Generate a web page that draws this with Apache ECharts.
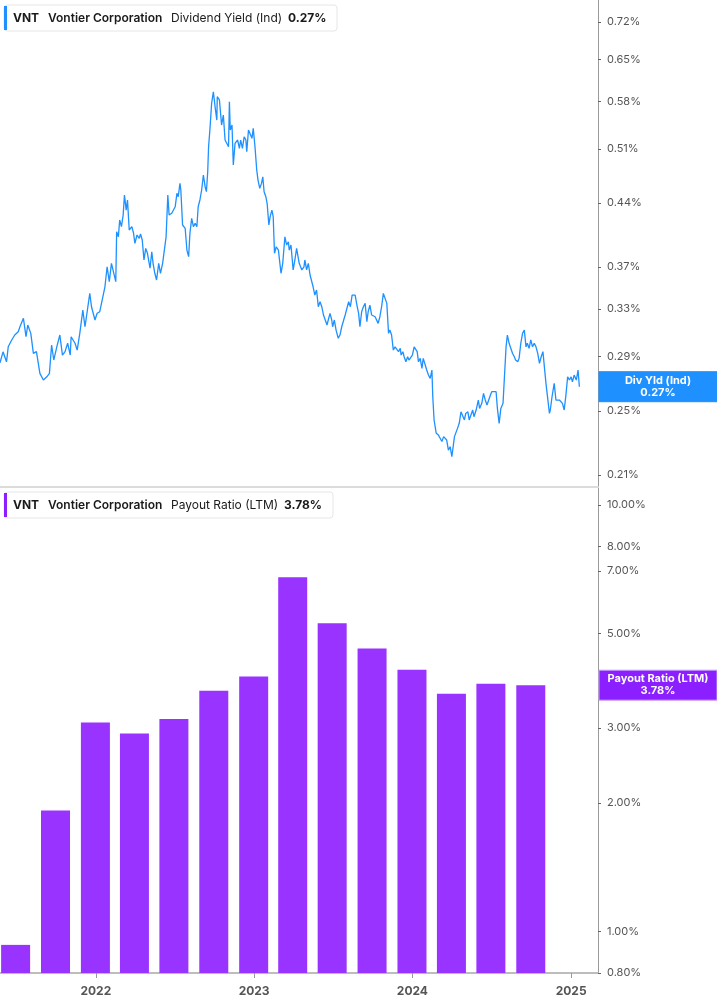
<!DOCTYPE html>
<html><head><meta charset="utf-8">
<script src="https://cdn.jsdelivr.net/npm/echarts@6/dist/echarts.min.js"></script>
<style>html,body{margin:0;padding:0;background:#fff}#c{width:717px;height:1005px}</style>
</head><body><div id="c"></div><script>
// ---- Data ----
const ticker = 'VNT';
const company = 'Vontier Corporation';
const yieldName = 'Dividend Yield (Ind)';
const payoutName = 'Payout Ratio (LTM)';
const yieldTicks = [0.21, 0.25, 0.29, 0.33, 0.37, 0.44, 0.51, 0.58, 0.65, 0.72];
const payoutTicks = [0.8, 1, 2, 3, 5, 7, 8, 10];
const payoutDates = ['2021-06-30','2021-09-30','2021-12-31','2022-03-31','2022-06-30','2022-09-30','2022-12-31','2023-03-31','2023-06-30','2023-09-30','2023-12-31','2024-03-31','2024-06-30','2024-09-30'];
const payoutValues = [0.93, 1.92, 3.09, 2.91, 3.15, 3.67, 3.96, 6.77, 5.28, 4.61, 4.11, 3.61, 3.81, 3.78];
const yieldDates = [
'2021-05-25','2021-06-01','2021-06-05','2021-06-09','2021-06-13','2021-06-21','2021-06-28','2021-07-06','2021-07-10','2021-07-18',
'2021-07-24','2021-07-28','2021-08-04','2021-08-10','2021-08-17','2021-08-25','2021-09-02','2021-09-10','2021-09-16','2021-09-21',
'2021-09-26','2021-10-03','2021-10-10','2021-10-16','2021-10-22','2021-10-28','2021-11-03','2021-11-05','2021-11-14','2021-11-19',
'2021-11-25','2021-12-02','2021-12-07','2021-12-12','2021-12-18','2021-12-22','2021-12-30','2022-01-04','2022-01-10','2022-01-14',
'2022-01-22','2022-01-27','2022-02-01','2022-02-06','2022-02-16','2022-02-18','2022-02-22','2022-02-25','2022-03-01','2022-03-05',
'2022-03-08','2022-03-12','2022-03-15','2022-03-19','2022-03-25','2022-03-29','2022-04-01','2022-04-06','2022-04-11','2022-04-14',
'2022-04-18','2022-04-22','2022-04-26','2022-04-30','2022-05-06','2022-05-10','2022-05-13','2022-05-17','2022-05-21','2022-05-26',
'2022-05-30','2022-06-04','2022-06-08','2022-06-12','2022-06-16','2022-06-19','2022-06-25','2022-07-03','2022-07-07','2022-07-10',
'2022-07-14','2022-07-16','2022-07-20','2022-07-26','2022-07-30','2022-08-03','2022-08-06','2022-08-10','2022-08-14','2022-08-18',
'2022-08-22','2022-08-25','2022-08-29','2022-09-02','2022-09-06','2022-09-10','2022-09-13','2022-09-16','2022-09-18','2022-09-21',
'2022-09-25','2022-09-29','2022-10-03','2022-10-07','2022-10-08','2022-10-13','2022-10-18','2022-10-22','2022-10-26','2022-10-30',
'2022-11-03','2022-11-05','2022-11-07','2022-11-11','2022-11-14','2022-11-18','2022-11-24','2022-11-28','2022-12-01','2022-12-05',
'2022-12-09','2022-12-13','2022-12-15','2022-12-19','2022-12-23','2022-12-27','2022-12-30','2023-01-03','2023-01-07','2023-01-10',
'2023-01-14','2023-01-18','2023-01-21','2023-01-24','2023-01-28','2023-01-31','2023-02-04','2023-02-07','2023-02-11','2023-02-14',
'2023-02-17','2023-02-21','2023-02-26','2023-03-04','2023-03-08','2023-03-13','2023-03-17','2023-03-21','2023-03-23','2023-03-27',
'2023-04-01','2023-04-05','2023-04-09','2023-04-15','2023-04-21','2023-04-26','2023-04-28','2023-05-02','2023-05-06','2023-05-10',
'2023-05-14','2023-05-17','2023-05-21','2023-05-25','2023-05-29','2023-06-02','2023-06-06','2023-06-10','2023-06-14','2023-06-18',
'2023-06-21','2023-06-25','2023-06-29','2023-07-01','2023-07-05','2023-07-09','2023-07-14','2023-07-18','2023-07-22','2023-07-26',
'2023-07-30','2023-08-03','2023-08-07','2023-08-11','2023-08-15','2023-08-18','2023-08-22','2023-08-26','2023-08-30','2023-09-02',
'2023-09-06','2023-09-10','2023-09-14','2023-09-18','2023-09-21','2023-09-25','2023-09-29','2023-10-03','2023-10-07','2023-10-11',
'2023-10-14','2023-10-18','2023-10-22','2023-10-26','2023-10-30','2023-11-03','2023-11-07','2023-11-10','2023-11-14','2023-11-18',
'2023-11-22','2023-11-26','2023-11-30','2023-12-04','2023-12-06','2023-12-10','2023-12-13','2023-12-17','2023-12-21','2023-12-24',
'2023-12-28','2024-01-01','2024-01-05','2024-01-09','2024-01-12','2024-01-15','2024-01-19','2024-01-23','2024-01-26','2024-01-30',
'2024-02-03','2024-02-07','2024-02-11','2024-02-15','2024-02-17','2024-02-20','2024-02-25','2024-03-01','2024-03-05','2024-03-09',
'2024-03-13','2024-03-17','2024-03-20','2024-03-24','2024-03-28','2024-04-01','2024-04-05','2024-04-07','2024-04-11','2024-04-14',
'2024-04-18','2024-04-22','2024-04-26','2024-04-30','2024-05-03','2024-05-08','2024-05-11','2024-05-15','2024-05-19','2024-05-22',
'2024-05-27','2024-06-01','2024-06-04','2024-06-09','2024-06-13','2024-06-17','2024-06-21','2024-06-25','2024-06-29','2024-07-02',
'2024-07-06','2024-07-12','2024-07-15','2024-07-19','2024-07-23','2024-07-28','2024-07-31','2024-08-04','2024-08-07','2024-08-11',
'2024-08-15','2024-08-19','2024-08-23','2024-08-26','2024-08-31','2024-09-03','2024-09-07','2024-09-11','2024-09-15','2024-09-19',
'2024-09-22','2024-09-26','2024-09-30','2024-10-04','2024-10-08','2024-10-12','2024-10-16','2024-10-20','2024-10-24','2024-10-28',
'2024-11-01','2024-11-04','2024-11-08','2024-11-12','2024-11-14','2024-11-18','2024-11-23','2024-11-27','2024-12-01','2024-12-05',
'2024-12-09','2024-12-12','2024-12-16','2024-12-20','2024-12-24','2024-12-28','2025-01-01','2025-01-04','2025-01-08','2025-01-13',
'2025-01-17','2025-01-20'];
const yieldValues = [
0.2850,0.2936,0.2944,0.2857,0.2976,0.3032,0.3073,0.3101,0.3143,0.3216,
0.3059,0.3158,0.3087,0.2923,0.2937,0.2769,0.2719,0.2743,0.2769,0.2991,
0.2871,0.2976,0.3073,0.2910,0.2937,0.3005,0.2910,0.3059,0.3005,0.2950,
0.3087,0.3289,0.3143,0.3274,0.3442,0.3319,0.3201,0.3260,0.3274,0.3349,
0.3504,0.3700,0.3553,0.3735,0.3553,0.4070,0.4014,0.4202,0.4126,0.4259,
0.4497,0.4317,0.4437,0.4089,0.4126,0.4053,0.3943,0.4034,0.3997,0.4045,
0.3979,0.3769,0.3890,0.3838,0.3685,0.3854,0.3735,0.3635,0.3569,0.3735,
0.3635,0.3735,0.3735,0.4014,0.4497,0.4259,0.4279,0.4356,0.4518,0.4477,
0.4642,0.4559,0.4145,0.4108,0.3872,0.3803,0.4053,0.4221,0.4126,0.4164,
0.4126,0.4356,0.4437,0.4559,0.4749,0.4600,0.4538,0.4792,0.5128,0.5368,
0.5771,0.5956,0.5717,0.5514,0.5876,0.5824,0.5440,0.5590,0.5223,0.5247,
0.5128,0.5797,0.5368,0.5440,0.4880,0.5176,0.5223,0.5106,0.5223,0.5106,
0.5269,0.5223,0.5059,0.5368,0.5392,0.5247,0.5392,0.5128,0.4814,0.4684,
0.4580,0.4642,0.4726,0.4538,0.4477,0.4397,0.4145,0.4240,0.4317,0.4240,
0.3838,0.3907,0.3872,0.3635,0.3735,0.4014,0.3925,0.3960,0.3872,0.3925,
0.3668,0.3769,0.3890,0.3735,0.3668,0.3700,0.3769,0.3668,0.3735,0.3618,
0.3601,0.3504,0.3426,0.3473,0.3319,0.3364,0.3319,0.3245,0.3201,0.3158,
0.3201,0.3260,0.3201,0.3143,0.3201,0.3115,0.3046,0.3073,0.3143,0.3158,
0.3245,0.3260,0.3364,0.3319,0.3426,0.3410,0.3426,0.3334,0.3260,0.3143,
0.3274,0.3319,0.3349,0.3186,0.3274,0.3334,0.3245,0.3260,0.3230,0.3216,
0.3172,0.3230,0.3319,0.3442,0.3426,0.3349,0.3087,0.3115,0.3073,0.2950,
0.2976,0.2991,0.2937,0.2964,0.2910,0.2937,0.2897,0.2857,0.2897,0.2871,
0.2884,0.2910,0.2976,0.2976,0.2937,0.2857,0.2884,0.2807,0.2884,0.2884,
0.2794,0.2756,0.2731,0.2794,0.2598,0.2439,0.2352,0.2341,0.2321,0.2300,
0.2331,0.2341,0.2310,0.2247,0.2268,0.2207,0.2214,0.2331,0.2331,0.2384,
0.2417,0.2494,0.2483,0.2439,0.2483,0.2494,0.2439,0.2472,0.2506,0.2461,
0.2506,0.2575,0.2517,0.2552,0.2622,0.2575,0.2540,0.2528,0.2610,0.2634,
0.2622,0.2634,0.2517,0.2417,0.2517,0.2552,0.2552,0.2976,0.3073,0.3005,
0.3018,0.2923,0.2897,0.2871,0.2857,0.2884,0.3005,0.3087,0.3115,0.2976,
0.3005,0.2964,0.3032,0.2976,0.3005,0.2976,0.2923,0.2845,0.2897,0.2937,
0.2937,0.2694,0.2694,0.2483,0.2506,0.2598,0.2694,0.2575,0.2563,0.2575,
0.2587,0.2552,0.2506,0.2610,0.2743,0.2719,0.2743,0.2706,0.2756,0.2719,
0.2794,0.2670];

// ---- Chart ----
const FONT = 'Inter, "Noto Sans", sans-serif';
const BLUE = '#1e90ff', PURPLE = '#9933ff', PURPLE_TAG = '#8b1fff';
const X_MIN = '2021-05-25', X_MAX = '2025-03-04';
const PLOT_W = 598, BAR_W = 29;
const chart = echarts.init(document.getElementById('c'), null, { renderer: 'canvas' });
const pct = v => Number(v).toFixed(2) + '%';
const lastYield = yieldValues[yieldValues.length - 1];
const lastPayout = payoutValues[payoutValues.length - 1];
const yearLabel = v => {
  const d = new Date(v);
  return (d.getMonth() === 0 && d.getDate() === 1) ? String(d.getFullYear()) : '';
};
// ECharts widens a time axis that carries bars by the bar width; pre-shrink so both panels share one date scale.
const t0 = +echarts.time.parse(X_MIN), t1 = +echarts.time.parse(X_MAX);
const pad = (t1 - t0) * (BAR_W / PLOT_W) / 2;

chart.setOption({
  animation: false,
  textStyle: { fontFamily: FONT },
  grid: [
    { left: 0, top: 0, width: PLOT_W, height: 487 },
    { left: 0, top: 488, width: PLOT_W, height: 485 }
  ],
  xAxis: [
    { type: 'time', gridIndex: 0, min: t0, max: t1, splitNumber: 3,
      axisLine: { onZero: false, lineStyle: { color: '#dcdcdc', width: 2 } },
      axisTick: { show: false }, axisLabel: { show: false }, splitLine: { show: false } },
    { type: 'time', gridIndex: 1, min: t0 + pad, max: t1 - pad, splitNumber: 3,
      axisLine: { onZero: false, lineStyle: { color: '#bdbdbd', width: 2 } },
      axisTick: { show: true, length: 5, lineStyle: { color: '#999' } },
      axisLabel: { formatter: yearLabel, hideOverlap: false,
        color: '#555', fontWeight: 'bold', fontSize: 12, margin: 12, fontFamily: FONT },
      splitLine: { show: false } }
  ],
  yAxis: [
    { type: 'log', gridIndex: 0, position: 'right', min: 0.20326, max: 0.7644,
      axisLine: { show: true, lineStyle: { color: '#9a9a9a' } },
      axisTick: { show: true, length: 3, customValues: yieldTicks, lineStyle: { color: '#666' } },
      axisLabel: { customValues: yieldTicks, formatter: pct, color: '#555', fontSize: 11, margin: 9, fontFamily: FONT },
      splitLine: { show: false } },
    { type: 'log', gridIndex: 1, position: 'right', min: 0.799, max: 10.96, startValue: 0.799,
      axisLine: { show: true, lineStyle: { color: '#9a9a9a' } },
      axisTick: { show: true, length: 3, customValues: payoutTicks, lineStyle: { color: '#666' } },
      axisLabel: { customValues: payoutTicks, formatter: pct, color: '#555', fontSize: 11, margin: 9, fontFamily: FONT },
      splitLine: { show: false } }
  ],
  series: [
    { type: 'line', xAxisIndex: 0, yAxisIndex: 0, showSymbol: false,
      data: yieldDates.map((d, i) => [d, yieldValues[i]]),
      lineStyle: { color: BLUE, width: 1.3 }, itemStyle: { color: BLUE } },
    { type: 'bar', xAxisIndex: 1, yAxisIndex: 1, barWidth: BAR_W,
      data: payoutDates.map((d, i) => [d, payoutValues[i]]),
      itemStyle: { color: PURPLE } }
  ]
});

const yLast = chart.convertToPixel({ yAxisIndex: 0 }, lastYield);
const pLast = chart.convertToPixel({ yAxisIndex: 1 }, lastPayout);
function legend(y, color, name, value, valueX) {
  const txt = (t, x, w) => ({ type: 'text', z: 101, style: { text: t, x: x, y: y + 13, fill: '#1a1a1a',
    font: w + ' 12px ' + FONT, verticalAlign: 'middle' } });
  return [
    { type: 'rect', z: 100, shape: { x: 4, y: y, width: valueX + 49 - 4, height: 26, r: 3 },
      style: { fill: '#fff', stroke: '#e6e6e6', lineWidth: 1 } },
    { type: 'rect', z: 101, shape: { x: 4, y: y + 1, width: 3, height: 24 }, style: { fill: color } },
    txt(ticker, 13, 'bold'), txt(company, 48, '600'), txt(name, 171, 'normal'), txt(value, valueX, 'bold')
  ];
}
function tag(yc, color, border, title, value) {
  return [
    { type: 'rect', z: 100, shape: { x: 599, y: yc - 15, width: 118, height: 30 },
      style: { fill: color, stroke: border, lineWidth: 1 } },
    { type: 'text', z: 101, style: { text: title + '\n' + value, x: 658, y: yc, fill: '#fff',
      font: 'bold 11px ' + FONT, align: 'center', verticalAlign: 'middle', lineHeight: 12 } }
  ];
}
chart.setOption({
  graphic: [].concat(
    legend(5, BLUE, yieldName, pct(lastYield), 288),
    legend(492, PURPLE_TAG, payoutName, pct(lastPayout), 284),
    tag(yLast, BLUE, BLUE, 'Div Yld (Ind)', pct(lastYield)),
    tag(pLast, PURPLE_TAG, '#c9a0ff', 'Payout Ratio (LTM)', pct(lastPayout))
  )
});
</script></body></html>
